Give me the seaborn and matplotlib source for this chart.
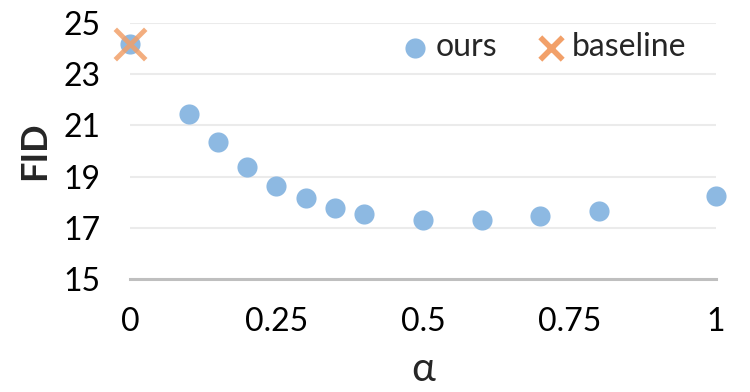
import matplotlib
matplotlib.use("Agg")
import matplotlib.pyplot as plt
import seaborn as sns
import pandas as pd

# values
alpha_vals = [0, 0.1, 0.15, 0.2, 0.25, 0.3, 0.35, 0.4, 0.5, 0.6, 0.7, 0.8, 1.0]
fid_ours = [24.16, 21.44, 20.35, 19.36, 18.65, 18.15, 17.76, 17.53, 17.30, 17.30, 17.45, 17.65, 18.26]
baseline_alpha = [0]
baseline_fid = [24.16]

y_ticks = [15, 17, 19, 21, 23, 25]
x_ticks = [0, 0.25, 0.5, 0.75, 1]
x_ticklabels = ["0", "0.25", "0.5", "0.75", "1"]

ours_df = pd.DataFrame({"alpha": alpha_vals, "FID": fid_ours})
base_df = pd.DataFrame({"alpha": baseline_alpha, "FID": baseline_fid})

sns.set_theme(style="white")
plt.rcParams["font.family"] = ["Lato", "DejaVu Sans"]

fig = plt.figure(figsize=(7.5, 3.92), dpi=100)
ax = fig.add_axes([0.1733, 0.2875, 0.7814, 0.6545])

sns.scatterplot(data=ours_df, x="alpha", y="FID", ax=ax, color="#8DB9E2",
                s=210, linewidth=0, label="ours", clip_on=False, zorder=3)
sns.scatterplot(data=base_df, x="alpha", y="FID", ax=ax, color="#F2A069",
                marker="x", s=480, linewidth=3.5, alpha=0.85, label="baseline",
                clip_on=False, zorder=4)

ax.set_xlim(0, 1)
ax.set_ylim(15, 25)
ax.set_yticks(y_ticks)
ax.set_xticks(x_ticks)
ax.set_xticklabels(x_ticklabels)

# light horizontal grid, grey base line
ax.yaxis.grid(True, color="#EBEBEB", linewidth=1.5)
ax.xaxis.grid(False)
for side in ["top", "right", "left"]:
    ax.spines[side].set_visible(False)
ax.spines["bottom"].set_color("#BFBFBF")
ax.spines["bottom"].set_linewidth(2.2)
ax.set_axisbelow(True)

ax.tick_params(axis="both", length=0, labelsize=23, colors="black")
ax.tick_params(axis="y", pad=21)
ax.tick_params(axis="x", pad=20)

ax.set_ylabel("FID", fontsize=26, fontweight="bold")
ax.set_xlabel("α", fontsize=29)
ax.yaxis.set_label_coords(-0.162, 0.5)
ax.xaxis.set_label_coords(0.5, -0.35)
ax.xaxis.label.set_va("center")
ax.yaxis.label.set_va("center")

leg = ax.legend(loc="center left", bbox_to_anchor=(402 / 750, 1 - 47 / 392),
                bbox_transform=fig.transFigure, ncol=2, frameon=False,
                fontsize=23, handlelength=0.8, handletextpad=0.25,
                columnspacing=1.3, borderpad=0, borderaxespad=0)
# legend cross is drawn smaller and bolder than the plotted one
leg.legend_handles[1].set_sizes([260])
leg.legend_handles[1].set_linewidth(4)
leg.legend_handles[1].set_alpha(1)

fig.savefig("out.png", dpi=100)
